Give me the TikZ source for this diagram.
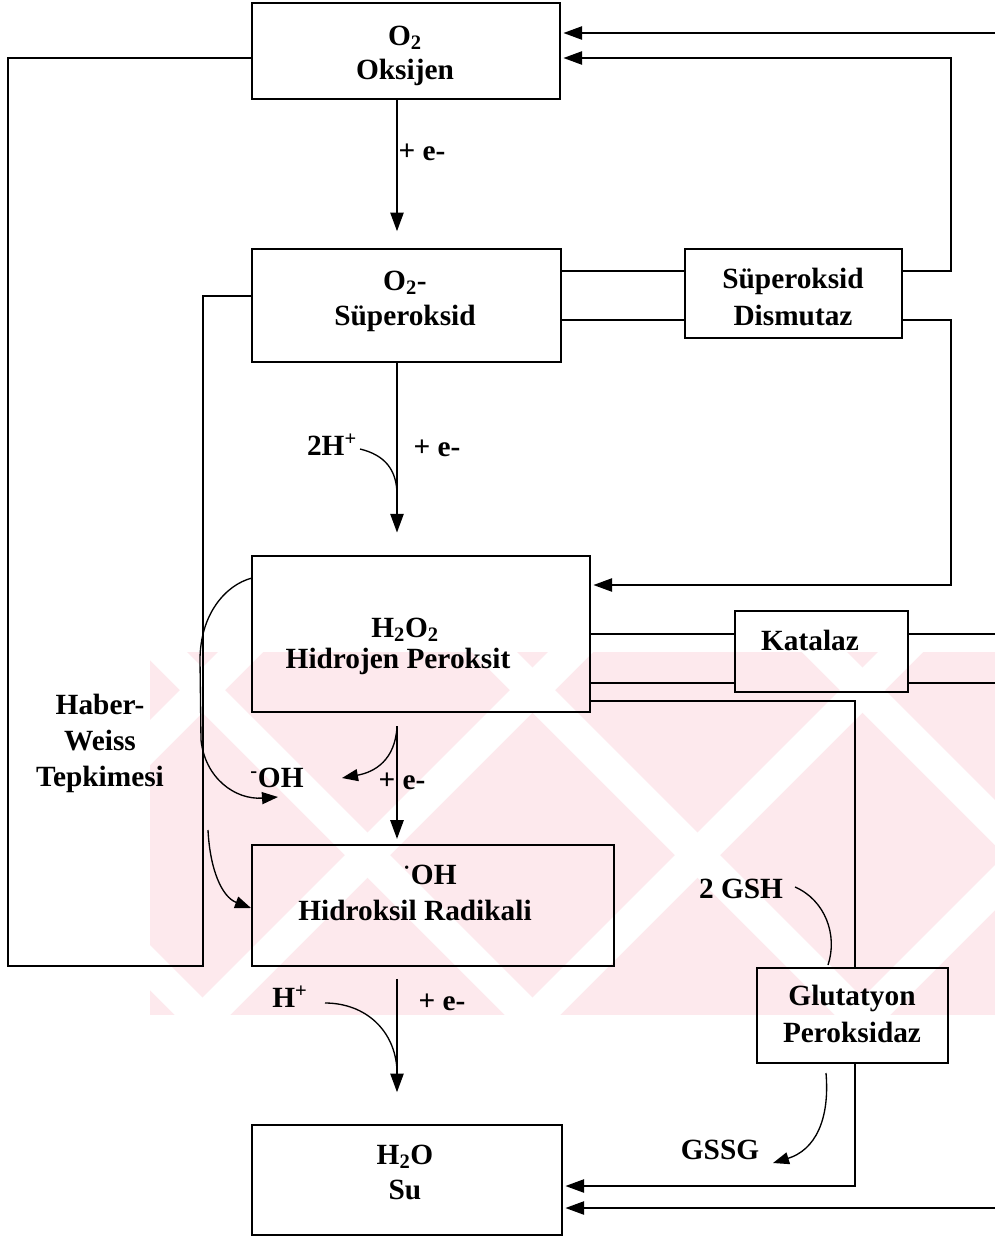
\documentclass[tikz,border=0pt]{standalone}
\usepackage{fontspec}
\setmainfont{Liberation Serif}
\usetikzlibrary{arrows.meta,calc}
\definecolor{wmpink}{RGB}{253,233,237}
\begin{document}
\begin{tikzpicture}[x=0.75pt,y=-0.75pt,
  box/.style={draw,line width=1.2pt,rectangle,inner sep=0pt},
  lbl/.style={font=\fontsize{22}{27}\selectfont\bfseries,inner sep=0pt,text height=15pt,text depth=4pt},
  conn/.style={line width=1.1pt},
  arr/.style={line width=1.1pt,-{Triangle[length=14pt,width=10pt]}},
  curv/.style={line width=1pt},
  carr/.style={line width=1pt,-{Triangle[length=12pt,width=9pt]}},
]
\useasboundingbox (0,0) rectangle (995,1236);
\fill[white] (0,0) rectangle (995,1236);
% watermark
\begin{scope}
\clip (150,652) rectangle (995,1015);
\fill[wmpink] (150,652) rectangle (995,1015);
\foreach \c in {-840,-510,-180,150,480}
  \fill[white] ({\c+652},652) -- ({\c+697},652) -- ({\c+1060},1015) -- ({\c+1015},1015) -- cycle;
\foreach \c in {540,870,1200,1530,1860}
  \fill[white] ({\c-652},652) -- ({\c-607},652) -- ({\c-970},1015) -- ({\c-1015},1015) -- cycle;
\end{scope}

% boxes
\node[box,minimum width=231pt,minimum height=72pt] (o2) at (406,51) {};
\node[box,minimum width=231.75pt,minimum height=84.75pt] (sup) at (406.5,305.5) {};
\node[box,minimum width=162.75pt,minimum height=66.75pt] (sod) at (793.5,293.5) {};
\node[box,minimum width=253.5pt,minimum height=117pt] (hp) at (421,634) {};
\node[box,minimum width=129.75pt,minimum height=60.75pt] (kat) at (821.5,651.5) {};
\node[box,minimum width=271.5pt,minimum height=90.75pt] (hr) at (433,905.5) {};
\node[box,minimum width=143.25pt,minimum height=71.25pt] (gpx) at (852.5,1015.5) {};
\node[box,minimum width=232.5pt,minimum height=82.5pt] (su) at (407,1180) {};

% box texts
\node[lbl] (o2a) at (405,38) {O\textsubscript{2}};
\node[lbl] (o2b) at (405,72) {Oksijen};
\node[lbl] (supa) at (405,283) {O\textsubscript{2}-};
\node[lbl] (supb) at (405,318) {Süperoksid};
\node[lbl] (soda) at (793,281) {Süperoksid};
\node[lbl] (sodb) at (793,318) {Dismutaz};
\node[lbl] (hpa) at (405,630) {H\textsubscript{2}O\textsubscript{2}};
\node[lbl] (hpb) at (398,661) {Hidrojen Peroksit};
\node[lbl] (kata) at (810,643) {Katalaz};
\node[lbl] (hra) at (430,877) {\textsuperscript{·}OH};
\node[lbl] (hrb) at (415,913) {Hidroksil Radikali};
\node[lbl] (gpxa) at (852,998) {Glutatyon};
\node[lbl] (gpxb) at (852,1035) {Peroksidaz};
\node[lbl] (sua) at (405,1157) {H\textsubscript{2}O};
\node[lbl] (sub) at (405,1192) {Su};
\node[lbl,align=center,text height=,text depth=] (hw) at (100,743) {Haber-\\Weiss\\Tepkimesi};

% side labels
\node[lbl] (e1) at (422,153) {+ e-};
\node[lbl] (h2p) at (332,448) {2H\textsuperscript{+}};
\node[lbl] (e2) at (437,449) {+ e-};
\node[lbl] (ohm) at (277,780) {\textsuperscript{-}OH};
\node[lbl] (e3) at (402,782) {+ e-};
\node[lbl] (hp1) at (290,1000) {H\textsuperscript{+}};
\node[lbl] (e4) at (442,1003) {+ e-};
\node[lbl] (gsh) at (741,891) {2 GSH};
\node[lbl] (gssg) at (720,1152) {GSSG};

% helper coordinates
\coordinate (vx) at (397,0);
\coordinate (yA) at (0,271);
\coordinate (yB) at (0,320);
\coordinate (xR) at (951,0);
\coordinate (yO2) at (0,58);
\coordinate (yHP) at (0,585);
\coordinate (eTop) at (995,33);
\coordinate (eK1) at (995,634);
\coordinate (eK2) at (995,683);
\coordinate (yG) at (0,701);
\coordinate (xG) at (855,0);
\coordinate (ySu1) at (0,1186);
\coordinate (eSu) at (995,1208);
\coordinate (yHW) at (0,296);
\coordinate (xHW1) at (8,0);
\coordinate (xHW2) at (203,0);
\coordinate (yHWb) at (0,966);

% main vertical arrows
\draw[arr,shorten >=12.75pt] (o2.south -| vx) -- (sup.north -| vx);
\draw[arr,shorten >=17pt] (sup.south -| vx) -- (hp.north -| vx);
\draw[arr,shorten <=10pt,shorten >=4pt] (hp.south -| vx) -- (hr.north -| vx);
\draw[arr,shorten <=9pt,shorten >=24pt] (hr.south -| vx) -- (su.north -| vx);

% superoxide dismutase
\draw[conn] (sup.east |- yA) -- (sod.west |- yA);
\draw[conn] (sup.east |- yB) -- (sod.west |- yB);
\draw[arr,shorten >=2pt] (sod.east |- yA) -| (xR |- yO2) -- (o2.east |- yO2);
\draw[arr,shorten >=2pt] (sod.east |- yB) -| (xR |- yHP) -- (hp.east |- yHP);
\draw[arr,shorten >=2pt] (eTop) -- (o2.east |- eTop);

% catalase
\draw[conn] (hp.east |- eK1) -- (kat.west |- eK1);
\draw[conn] (hp.east |- eK2) -- (kat.west |- eK2);
\draw[conn] (kat.east |- eK1) -- (eK1);
\draw[conn] (kat.east |- eK2) -- (eK2);

% glutathione peroxidase
\draw[conn] (hp.east |- yG) -| (gpx.north -| xG);
\draw[arr,shorten >=2pt] (gpx.south -| xG) |- (su.east |- ySu1);
\draw[arr,shorten >=2pt] (eSu) -- (su.east |- eSu);

% Haber-Weiss loop
\draw[conn] (o2.west |- yO2) -| (xHW1 |- yHWb) -| (xHW2 |- yHW) -- (sup.west |- yHW);

% curved arrows
\coordinate (c2s) at (360,449);
\coordinate (c2e) at (397,495);
\draw[curv] (c2s) .. controls (385,455) and (397,470) .. (c2e);

\coordinate (c3s) at (397,727);
\coordinate (c3e) at (342,778);
\draw[carr] (c3s) .. controls (395,760) and (375,772) .. (c3e);

\coordinate (hw1s) at (252,578);
\coordinate (hw1m) at (200,660);
\coordinate (hw1n) at (201,740);
\coordinate (hw1e) at (278,797);
\draw[carr] (hw1s) .. controls (225,585) and (200,615) .. (hw1m) -- (hw1n) .. controls (205,778) and (235,800) .. (hw1e);

\coordinate (hw2s) at (208,830);
\coordinate (hw2e) at (251,908);
\draw[carr] (hw2s) .. controls (210,870) and (222,897) .. (hw2e);

\coordinate (c4s) at (325,1003);
\coordinate (c4e) at (397,1070);
\draw[curv] (c4s) .. controls (365,1003) and (395,1030) .. (c4e);

\coordinate (g1s) at (795,887);
\coordinate (g1e) at (828,965);
\draw[curv] (g1s) .. controls (825,900) and (838,935) .. (g1e);

\coordinate (g2s) at (826,1073);
\coordinate (g2e) at (773,1163);
\draw[carr] (g2s) .. controls (830,1120) and (815,1150) .. (g2e);
\end{tikzpicture}
\end{document}
